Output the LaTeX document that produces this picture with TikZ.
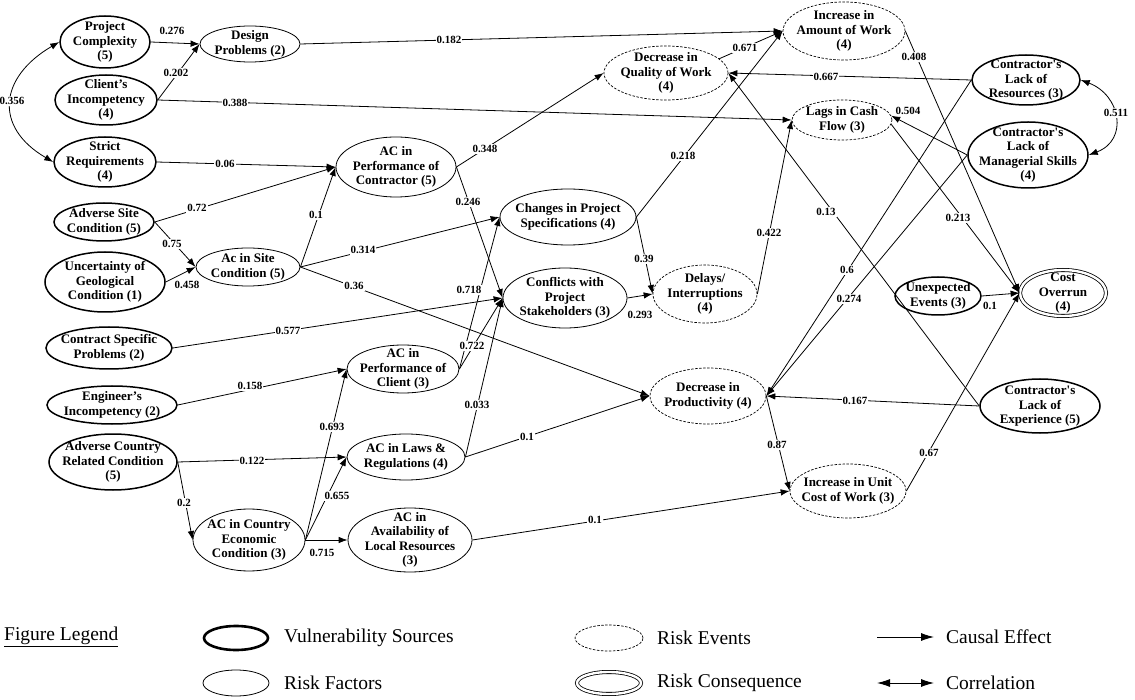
\documentclass[tikz,border=0pt]{standalone}
\usepackage{fontspec}
\setmainfont{Liberation Serif}
\usetikzlibrary{arrows.meta,shapes.geometric}
\newcommand\nodefont{\bfseries\fontsize{13}{14.5}\selectfont}
\newcommand\labfont{\bfseries\fontsize{11}{12}\selectfont}
\newcommand\legfont{\fontsize{19.5}{22}\selectfont}
\newcommand\nt[1]{\smash{\makebox[0pt]{\raisebox{-0.25em}{\begin{tabular}{@{}c@{}}#1\end{tabular}}}}}
\newcommand\apos{\textquotesingle}
\begin{document}
\begin{tikzpicture}[x=1pt,y=-1pt,
  base/.style={ellipse,draw,inner sep=0pt,font=\nodefont},
  vs/.style={base,line width=1.5pt},
  rf/.style={base,line width=0.8pt},
  re/.style={base,line width=0.7pt,dash pattern=on 2.5pt off 1.5pt},
  rc/.style={base,line width=0.8pt,double,double distance=2.4pt},
  sz/.style 2 args={minimum width=#1pt,minimum height=#2pt},
  arr/.style={line width=0.8pt,-{Latex[length=9pt,width=6.5pt]}},
  bi/.style={line width=0.8pt,{Latex[length=9pt,width=6.5pt]}-{Latex[length=9pt,width=6.5pt]}},
  legarr/.style={line width=0.9pt,-{Latex[length=13pt,width=8pt]}},
  legbi/.style={line width=0.9pt,{Latex[length=13pt,width=8pt]}-{Latex[length=13pt,width=8pt]}},
  lab/.style={font=\labfont,fill=white,inner sep=1pt},
  labn/.style={font=\labfont,inner sep=1pt},
  leg/.style={font=\legfont,anchor=west,inner sep=0pt},
]
\useasboundingbox (0,0) rectangle (1135,700);

% ---------- nodes ----------
\node[vs,sz={90}{52}]  (pc)   at (105,42)  {\nt{Project\\Complexity\\(5)}};
\node[rf,sz={100}{36}] (dp)   at (250,44)  {\nt{Design\\Problems (2)}};
\node[vs,sz={102}{50}] (ci)   at (106,100) {\nt{Client’s\\Incompetency\\(4)}};
\node[vs,sz={102}{50}] (sr)   at (105,162) {\nt{Strict\\Requirements\\(4)}};
\node[vs,sz={100}{38}] (asc)  at (104,222) {\nt{Adverse Site\\Condition (5)}};
\node[rf,sz={104}{38}] (acs)  at (248,267) {\nt{Ac in Site\\Condition (5)}};
\node[vs,sz={120}{60}] (ugc)  at (105,282) {\nt{Uncertainty of\\Geological\\Condition (1)}};
\node[vs,sz={126}{42}] (csp)  at (109,348) {\nt{Contract Specific\\Problems (2)}};
\node[vs,sz={130}{38}] (ei)   at (112,405) {\nt{Engineer’s\\Incompetency (2)}};
\node[vs,sz={128}{56}] (acr)  at (113,462) {\nt{Adverse Country\\Related Condition\\(5)}};
\node[rf,sz={112}{62}] (ace)  at (249,540) {\nt{AC in Country\\Economic\\Condition (3)}};
\node[rf,sz={120}{60}] (acpc) at (396,167) {\nt{AC in\\Performance of\\Contractor (5)}};
\node[rf,sz={112}{48}] (acpcl) at (403,369) {\nt{AC in\\Performance of\\Client (3)}};
\node[rf,sz={118}{46}] (acl)  at (406,457) {\nt{AC in Laws \&\\Regulations (4)}};
\node[rf,sz={124}{64}] (aca)  at (410,540) {\nt{AC in\\Availability of\\Local Resources\\(3)}};
\node[rf,sz={136}{56}] (chg)  at (568,217) {\nt{Changes in Project\\Specifications (4)}};
\node[rf,sz={124}{60}] (conf) at (565,298) {\nt{Conflicts with\\Project\\Stakeholders (3)}};
\node[re,sz={124}{54}] (qual) at (666,73)  {\nt{Decrease in\\Quality of Work\\(4)}};
\node[re,sz={122}{58}] (iaw)  at (844,31)  {\nt{Increase in\\Amount of Work\\(4)}};
\node[re,sz={104}{58}] (del)  at (705,294) {\nt{Delays/\\Interruptions\\(4)}};
\node[re,sz={100}{40}] (lags) at (842,120) {\nt{Lags in Cash\\Flow (3)}};
\node[re,sz={116}{56}] (prod) at (708,396) {\nt{Decrease in\\Productivity (4)}};
\node[re,sz={116}{54}] (iuc)  at (848,491) {\nt{Increase in Unit\\Cost of Work (3)}};
\node[vs,sz={108}{50}] (clr)  at (1026,80) {\nt{Contractor\apos s\\Lack of\\Resources (3)}};
\node[vs,sz={120}{66}] (clms) at (1028,155) {\nt{Contractor\apos s\\Lack of\\Managerial Skills\\(4)}};
\node[vs,sz={120}{54}] (cle)  at (1040,406) {\nt{Contractor\apos s\\Lack of\\Experience (5)}};
\node[vs,sz={86}{38}]  (ue)   at (938,296) {\nt{Unexpected\\Events (3)}};
\node[rc,sz={86}{46}]  (co)   at (1063,293) {\nt{Cost\\Overrun\\(4)}};

% ---------- connectors ----------
\draw[arr] (pc.east) -- (dp.west);
\draw[arr] (ci.east) -- (dp.west);
\draw[arr] (dp.east) -- (iaw.west);
\draw[arr] (ci.east) -- (lags.west);
\draw[bi] (pc.west) .. controls +(-60,35) and +(-60,-35) .. (sr.west);
\draw[arr] (sr.east) -- (acpc.west);
\draw[arr] (asc.east) -- (acpc.west);
\draw[arr] (asc.east) -- (acs.west);
\draw[arr] (ugc.east) -- (acs.west);
\draw[arr] (acs.east) -- (acpc.west);
\draw[arr] (acs.east) -- (chg.west);
\draw[arr] (acs.east) -- (prod.west);
\draw[arr] (acpc.east) -- (qual.west);
\draw[arr] (acpc.east) -- (conf.west);
\draw[arr] (csp.east) -- (conf.west);
\draw[arr] (ei.east) -- (acpcl.west);
\draw[arr] (acpcl.east) -- (chg.west);
\draw[arr] (acpcl.east) -- (conf.west);
\draw[arr] (acl.east) -- (conf.west);
\draw[arr] (acl.east) -- (prod.west);
\draw[arr] (acr.east) -- (acl.west);
\draw[arr] (acr.east) -- (ace.west);
\draw[arr] (ace.east) -- (acpcl.west);
\draw[arr] (ace.east) -- (acl.west);
\draw[arr] (ace.east) -- (aca.west);
\draw[arr] (aca.east) -- (iuc.west);
\draw[arr] (chg.east) -- (iaw.west);
\draw[arr] (chg.east) -- (del.west);
\draw[arr] (conf.east) -- (del.west);
\draw[arr] (del.east) -- (lags.west);
\draw[arr] (qual.15) -- (iaw.west);
\draw[arr] (iaw.east) -- (co.west);
\draw[arr] (clr.west) -- (qual.east);
\draw[arr] (clr.west) -- (prod.east);
\draw[arr] (clms.west) -- (lags.5);
\draw[arr] (clms.west) -- (prod.east);
\draw[arr] (cle.west) -- (prod.east);
\draw[arr] (cle.west) -- (qual.east);
\draw[arr] (lags.-5) -- (co.west);
\draw[arr] (ue.east) -- (co.west);
\draw[arr] (iuc.east) -- (co.west);
\draw[arr] (prod.east) -- (iuc.west);
\draw[bi] (clr.east) .. controls +(40,15) and +(40,-15) .. (clms.east);

% ---------- connector labels ----------
\node[labn] (w01) at (172,31)  {0.276};
\node[lab]  (w02) at (176,73)  {0.202};
\node[lab]  (w03) at (449,40)  {0.182};
\node[lab]  (w04) at (235,103) {0.388};
\node[lab]  (w05) at (12,101)  {0.356};
\node[lab]  (w06) at (225,164) {0.06};
\node[lab]  (w07) at (197,208) {0.72};
\node[lab]  (w08) at (172,244) {0.75};
\node[labn] (w09) at (187,285) {0.458};
\node[lab]  (w10) at (316,215) {0.1};
\node[lab]  (w11) at (363,250) {0.314};
\node[lab]  (w12) at (354,286) {0.36};
\node[lab]  (w13) at (288,331) {0.577};
\node[lab]  (w14) at (485,149) {0.348};
\node[lab]  (w15) at (468,202) {0.246};
\node[lab]  (w16) at (250,386) {0.158};
\node[lab]  (w17) at (469,290) {0.718};
\node[lab]  (w18) at (472,346) {0.722};
\node[lab]  (w19) at (477,405) {0.033};
\node[lab]  (w20) at (527,437) {0.1};
\node[lab]  (w21) at (332,427) {0.693};
\node[lab]  (w22) at (337,496) {0.655};
\node[labn] (w23) at (322,553) {0.715};
\node[lab]  (w24) at (252,461) {0.122};
\node[lab]  (w25) at (184,503) {0.2};
\node[lab]  (w26) at (595,520) {0.1};
\node[lab]  (w27) at (745,48)  {0.671};
\node[lab]  (w28) at (683,156) {0.218};
\node[lab]  (w29) at (644,259) {0.39};
\node[labn] (w30) at (640,315) {0.293};
\node[lab]  (w31) at (769,233) {0.422};
\node[lab]  (w32) at (914,57)  {0.408};
\node[lab]  (w33) at (826,77)  {0.667};
\node[lab]  (w34) at (847,270) {0.6};
\node[labn] (w35) at (908,111) {0.504};
\node[lab]  (w36) at (849,299) {0.274};
\node[lab]  (w37) at (855,401) {0.167};
\node[lab]  (w38) at (826,212) {0.13};
\node[lab]  (w39) at (958,218) {0.213};
\node[labn] (w40) at (990,306) {0.1};
\node[lab]  (w41) at (929,453) {0.67};
\node[lab]  (w42) at (777,445) {0.87};
\node[lab]  (w43) at (1116,113) {0.511};

% ---------- legend ----------
\node[leg] (lgt) at (4,637) {\underline{Figure Legend}};
\node[base,line width=2.6pt,sz={64}{24}] (lg1) at (236,638) {};
\node[leg] (lg1t) at (284,638) {Vulnerability Sources};
\node[rf,sz={66}{26}] (lg2) at (236,683) {};
\node[leg] (lg2t) at (284,683) {Risk Factors};
\node[re,sz={68}{26}] (lg3) at (609,638) {};
\node[leg] (lg3t) at (657,638) {Risk Events};
\node[rc,sz={64}{22}] (lg4) at (609,683) {};
\node[leg] (lg4t) at (657,683) {Risk Consequence};
\coordinate (lga1) at (877,637);
\coordinate (lga2) at (934,637);
\draw[legarr] (lga1) -- (lga2);
\node[leg] (lg5t) at (946,637) {Causal Effect};
\coordinate (lgb1) at (877,683);
\coordinate (lgb2) at (934,683);
\draw[legbi] (lgb1) -- (lgb2);
\node[leg] (lg6t) at (946,683) {Correlation};
\end{tikzpicture}
\end{document}
